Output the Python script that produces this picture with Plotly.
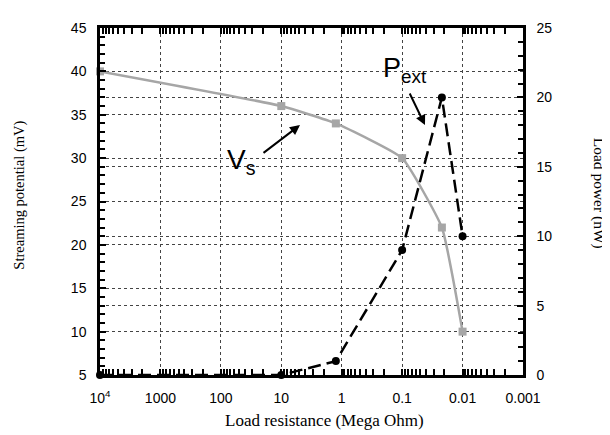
import plotly.graph_objects as go

# Data
resistance = [1e4, 10, 1.25, 0.1, 0.022, 0.01]          # Mega Ohm
streaming_potential = [40, 36, 34, 30, 22, 10]          # mV
load_power = [0, 0, 1, 9, 20, 10]                       # nW

x_tickvals = [1e4, 1000, 100, 10, 1, 0.1, 0.01, 0.001]
x_ticktext = ["10<sup>4</sup>", "1000", "100", "10", "1", "0.1", "0.01", "0.001"]
x_minor = [m * 10.0 ** e for e in range(-3, 4) for m in range(2, 10)]

SANS = "Liberation Sans, Arial, sans-serif"
SERIF = "Liberation Serif, Times New Roman, serif"
GRID = "#444444"

fig = go.Figure()
fig.add_trace(go.Scatter(
    x=resistance, y=streaming_potential, mode="lines+markers", yaxis="y",
    line=dict(color="#a6a6a6", width=2.5, shape="spline", smoothing=0.4),
    marker=dict(symbol="square", size=8, color="#a6a6a6"),
    cliponaxis=False, showlegend=False))
fig.add_trace(go.Scatter(
    x=resistance, y=load_power, mode="lines+markers", yaxis="y2",
    line=dict(color="black", width=2.5, dash="13px,6px"),
    marker=dict(symbol="circle", size=8, color="black"),
    cliponaxis=False, showlegend=False))

fig.update_layout(
    width=602, height=427,
    margin=dict(l=92, r=87, t=13, b=60),
    paper_bgcolor="white", plot_bgcolor="white",
    font=dict(family=SANS, size=14, color="black"),
    xaxis=dict(
        type="log", range=[4, -3],
        tickmode="array", tickvals=x_tickvals, ticktext=x_ticktext,
        ticks="inside", ticklen=6, tickwidth=1.5, tickcolor="black",
        showline=True, linewidth=2.5, linecolor="black", mirror="allticks",
        showgrid=True, gridcolor=GRID, griddash="dot", gridwidth=1,
        zeroline=False, ticklabelstandoff=8,
        minor=dict(tickvals=x_minor, ticks="inside", ticklen=4,
                   tickwidth=1.5, tickcolor="black", showgrid=False),
    ),
    yaxis=dict(
        range=[5, 45], tick0=5, dtick=5,
        ticks="inside", ticklen=6, tickwidth=1.5, tickcolor="black",
        showline=True, linewidth=2.5, linecolor="black",
        showgrid=True, gridcolor=GRID, griddash="dot", gridwidth=1,
        zeroline=False, ticklabelstandoff=8,
        minor=dict(dtick=1, ticks="inside", ticklen=5, tickwidth=1.5,
                   tickcolor="black", showgrid=False),
    ),
    yaxis2=dict(
        overlaying="y", side="right", range=[0, 25], tick0=0, dtick=5,
        ticks="inside", ticklen=6, tickwidth=1.5, tickcolor="black",
        showline=True, linewidth=2.5, linecolor="black",
        showgrid=True, gridcolor=GRID, griddash="dot", gridwidth=1,
        zeroline=False, ticklabelstandoff=8,
        minor=dict(dtick=1, ticks="inside", ticklen=5, tickwidth=1.5,
                   tickcolor="black", showgrid=False),
    ),
    annotations=[
        dict(text="Load resistance (Mega Ohm)", xref="paper", yref="paper",
             x=0.530, y=-0.130, showarrow=False, xanchor="center", yanchor="middle",
             font=dict(family=SERIF, size=17)),
        dict(text="Streaming potential (mV)", xref="paper", yref="paper",
             x=-0.189, y=0.517, showarrow=False, textangle=-90,
             xanchor="center", yanchor="middle", font=dict(family=SERIF, size=14.5)),
        dict(text="Load power (nW)", xref="paper", yref="paper",
             x=1.180, y=0.525, showarrow=False, textangle=90,
             xanchor="center", yanchor="middle", font=dict(family=SERIF, size=15.5)),
        dict(text="V<sub>s</sub>", xref="paper", yref="paper",
             x=0.335, y=0.615, showarrow=False, xanchor="center", yanchor="middle",
             font=dict(family=SANS, size=28)),
        dict(text="P<sub>ext</sub>", xref="paper", yref="paper",
             x=0.722, y=0.88, showarrow=False, xanchor="center", yanchor="middle",
             font=dict(family=SANS, size=27)),
        dict(text="", xref="paper", yref="paper", x=0.4728, y=0.7203,
             ax=-38, ay=29, showarrow=True, arrowhead=2, arrowsize=1,
             arrowwidth=2, arrowcolor="black"),
        dict(text="", xref="paper", yref="paper", x=0.7683, y=0.7203,
             ax=-16, ay=-33, showarrow=True, arrowhead=2, arrowsize=1,
             arrowwidth=2, arrowcolor="black"),
    ],
)

fig.write_html("out.html")
